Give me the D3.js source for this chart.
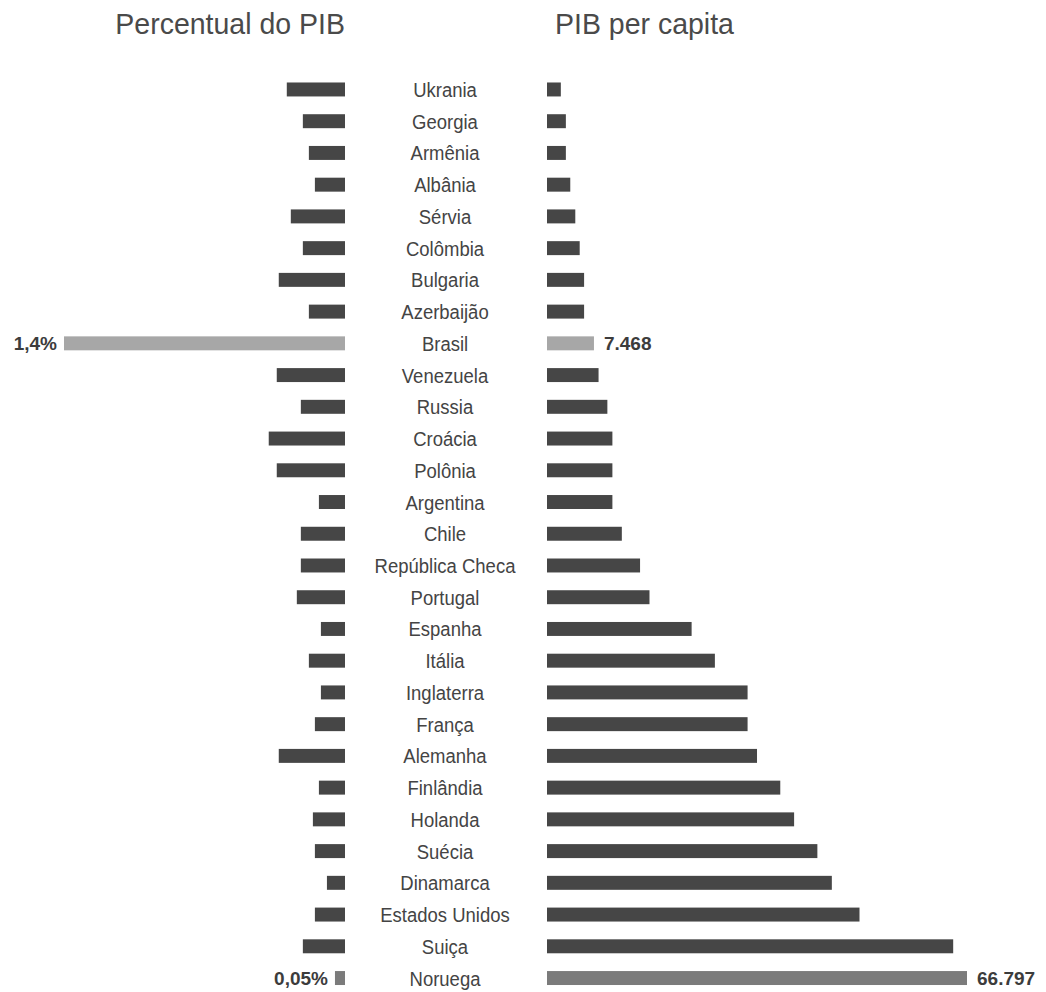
<!DOCTYPE html>
<html>
<head>
<meta charset="utf-8">
<script src="https://cdn.jsdelivr.net/npm/d3@7"></script>
<style>
  html, body { margin: 0; padding: 0; background: #ffffff; }
  svg { display: block; }
</style>
</head>
<body>
<svg id="chart" width="1046" height="992"></svg>
<script>
// Countries, ordered from lowest to highest GDP per capita
const countries = [
  "Ukrania", "Georgia", "Armênia", "Albânia", "Sérvia", "Colômbia", "Bulgaria",
  "Azerbaijão", "Brasil", "Venezuela", "Russia", "Croácia", "Polônia", "Argentina",
  "Chile", "República Checa", "Portugal", "Espanha", "Itália", "Inglaterra",
  "França", "Alemanha", "Finlândia", "Holanda", "Suécia", "Dinamarca",
  "Estados Unidos", "Suiça", "Noruega"
];

// Share of GDP (%)
const pctGdp = [
  0.29, 0.21, 0.18, 0.15, 0.27, 0.21, 0.33,
  0.18, 1.4, 0.34, 0.22, 0.38, 0.34, 0.13,
  0.22, 0.22, 0.24, 0.12, 0.18, 0.12,
  0.15, 0.33, 0.13, 0.16, 0.15, 0.09,
  0.15, 0.21, 0.05
];

// GDP per capita (US$)
const gdpPerCapita = [
  2200, 3000, 3000, 3700, 4500, 5200, 5900,
  5900, 7468, 8200, 9600, 10400, 10400, 10400,
  11900, 14800, 16300, 23000, 26700, 31900,
  31900, 33400, 37100, 39300, 43000, 45300,
  49700, 64600, 66797
];

// Values printed next to their bars
const leftLabels = { "Brasil": "1,4%", "Noruega": "0,05%" };
const rightLabels = { "Brasil": "7.468", "Noruega": "66.797" };

const titles = ["Percentual do PIB", "PIB per capita"];

const svg = d3.select("#chart");
const font = "'Liberation Sans', Arial, sans-serif";

const barColor = d => d === "Brasil" ? "#a7a7a7" : (d === "Noruega" ? "#7b7b7b" : "#464646");

const y = d3.scaleBand()
  .domain(countries)
  .range([73.6, 993.9])
  .paddingInner(0.56)
  .paddingOuter(0.28);

const xLeft = d3.scaleLinear().domain([0, 1.4]).range([345, 64]);
const xRight = d3.scaleLinear().domain([0, 66797]).range([547, 967]);

const rows = countries.map((c, i) => ({ name: c, pct: pctGdp[i], gdp: gdpPerCapita[i] }));

// Titles (tall lettering)
svg.append("text")
  .attr("transform", "translate(345,33.5) scale(1,1.06)")
  .attr("text-anchor", "end")
  .attr("font-family", font).attr("font-size", 28.5)
  .attr("fill", "#4a4a4a")
  .text(titles[0]);

svg.append("text")
  .attr("transform", "translate(555,33.5) scale(1,1.06)")
  .attr("text-anchor", "start")
  .attr("font-family", font).attr("font-size", 28.5)
  .attr("fill", "#4a4a4a")
  .text(titles[1]);

// Left bars: share of GDP, growing leftwards
svg.append("g").selectAll("rect")
  .data(rows)
  .join("rect")
  .attr("x", d => xLeft(d.pct))
  .attr("y", d => y(d.name))
  .attr("width", d => xLeft(0) - xLeft(d.pct))
  .attr("height", y.bandwidth())
  .attr("fill", d => barColor(d.name));

// Right bars: GDP per capita
svg.append("g").selectAll("rect")
  .data(rows)
  .join("rect")
  .attr("x", xRight(0))
  .attr("y", d => y(d.name))
  .attr("width", d => xRight(d.gdp) - xRight(0))
  .attr("height", y.bandwidth())
  .attr("fill", d => barColor(d.name));

// Country names in the middle column
svg.append("g").selectAll("text")
  .data(rows)
  .join("text")
  .attr("transform", d => `translate(445,${y(d.name) + y.bandwidth() / 2 + 7.5}) scale(1,1.08)`)
  .attr("text-anchor", "middle")
  .attr("font-family", font)
  .attr("font-size", 18.5)
  .attr("fill", "#444444")
  .text(d => d.name);

// Value labels for highlighted countries
svg.append("g").selectAll("text")
  .data(rows.filter(d => leftLabels[d.name]))
  .join("text")
  .attr("x", d => xLeft(d.pct) - 7)
  .attr("y", d => y(d.name) + y.bandwidth() / 2 + 7)
  .attr("text-anchor", "end")
  .attr("font-family", font)
  .attr("font-weight", "bold")
  .attr("font-size", 19)
  .attr("fill", "#3c3c3c")
  .text(d => leftLabels[d.name]);

svg.append("g").selectAll("text")
  .data(rows.filter(d => rightLabels[d.name]))
  .join("text")
  .attr("x", d => xRight(d.gdp) + 10)
  .attr("y", d => y(d.name) + y.bandwidth() / 2 + 7)
  .attr("text-anchor", "start")
  .attr("font-family", font)
  .attr("font-weight", "bold")
  .attr("font-size", 19)
  .attr("fill", "#3c3c3c")
  .text(d => rightLabels[d.name]);
</script>
</body>
</html>
